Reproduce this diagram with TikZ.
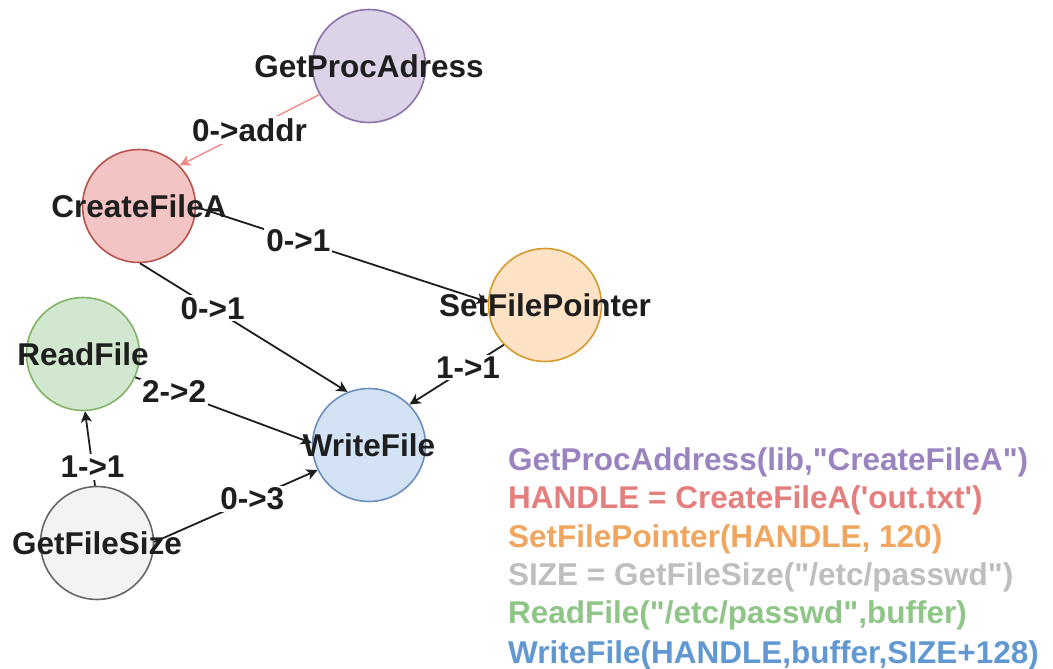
\documentclass[tikz,border=0pt]{standalone}
\usepackage{fontspec}
\setmainfont{Liberation Sans}[Ligatures=TeXOff]
\usetikzlibrary{arrows.meta}

\definecolor{pfill}{HTML}{DDD3E8}\definecolor{pline}{HTML}{8C72A6}
\definecolor{rfill}{HTML}{F2C4C3}\definecolor{rline}{HTML}{B85450}
\definecolor{ofill}{HTML}{FDE2C6}\definecolor{oline}{HTML}{D49A2E}
\definecolor{gfill}{HTML}{D2E7CF}\definecolor{gline}{HTML}{82B366}
\definecolor{bfill}{HTML}{D3E2F5}\definecolor{bline}{HTML}{6C8EBF}
\definecolor{kfill}{HTML}{F3F3F3}\definecolor{kline}{HTML}{666666}
\definecolor{pinkarrow}{HTML}{EE8A88}
\definecolor{ptext}{HTML}{9A84C0}
\definecolor{rtext}{HTML}{E57F7E}
\definecolor{otext}{HTML}{F0A65E}
\definecolor{ktext}{HTML}{BEBEBE}
\definecolor{gtext}{HTML}{8FC687}
\definecolor{btext}{HTML}{6198D2}
\definecolor{ink}{HTML}{1E1E1E}

\tikzset{
  fn/.style={circle, draw, line width=1.6pt, minimum size=113pt, inner sep=0pt},
  fnlabel/.style={font=\fontsize{31.5}{36}\selectfont\bfseries, text=ink, inner sep=0pt},
  flow/.style={line width=1.8pt, draw=ink,
    -{Stealth[length=11pt, width=11pt, inset=3pt]}},
  elabel/.style={fill=white, font=\fontsize{31.5}{36}\selectfont\bfseries,
    text=ink, inner sep=2pt},
  code/.style={anchor=base west, inner sep=0pt,
    font=\fontsize{31.5}{36}\selectfont\bfseries}
}

\begin{document}
\begin{tikzpicture}[x=1pt, y=-1pt]
\useasboundingbox (0,0) rectangle (1053,669);

% function nodes
\node[fn, fill=pfill, draw=pline] (gpa) at (369,66)  {};
\node[fn, fill=rfill, draw=rline] (cfa) at (139,206) {};
\node[fn, fill=ofill, draw=oline] (sfp) at (545,305) {};
\node[fn, fill=gfill, draw=gline] (rf)  at (83,354)  {};
\node[fn, fill=bfill, draw=bline] (wf)  at (369,445) {};
\node[fn, fill=kfill, draw=kline] (gfs) at (97,543)  {};

% data flow between calls
\draw[flow, draw=pinkarrow, line width=1.4pt] (gpa.210) -- node[elabel, pos=0.5] {0->addr} (cfa.45);
\draw[flow] (cfa.-1)   -- node[elabel, pos=0.35] {0->1} (sfp.177);
\draw[flow] (cfa.-89)  -- node[elabel, pos=0.35] {0->1} (wf.112);
\draw[flow] (sfp.224)  -- node[elabel, pos=0.38] {1->1} (wf.45);
\draw[flow] (rf.-24)   -- node[elabel, pos=0.22] {2->2} (wf.178);
\draw[flow] (gfs.92)   -- node[elabel, pos=0.25] {1->1} (rf.-88);
\draw[flow] (gfs.1)    -- node[elabel, pos=0.6]  {0->3} (wf.206);

% function names
\node[fnlabel] (gpat) at (gpa) {GetProcAdress};
\node[fnlabel] (cfat) at (cfa) {CreateFileA};
\node[fnlabel] (sfpt) at (sfp) {SetFilePointer};
\node[fnlabel] (rft)  at (rf)  {ReadFile};
\node[fnlabel] (wft)  at (wf)  {WriteFile};
\node[fnlabel] (gfst) at (gfs) {GetFileSize};

% source listing
\node[code, text=ptext] (l1) at (508,470) {GetProcAddress(lib,"CreateFileA")};
\node[code, text=rtext] (l2) at (508,508) {HANDLE = CreateFileA('out.txt')};
\node[code, text=otext] (l3) at (508,547) {SetFilePointer(HANDLE, 120)};
\node[code, text=ktext] (l4) at (508,585) {SIZE = GetFileSize("/etc/passwd")};
\node[code, text=gtext] (l5) at (508,623) {ReadFile("/etc/passwd",buffer)};
\node[code, text=btext] (l6) at (508,663) {WriteFile(HANDLE,buffer,SIZE+128)};
\end{tikzpicture}
\end{document}
